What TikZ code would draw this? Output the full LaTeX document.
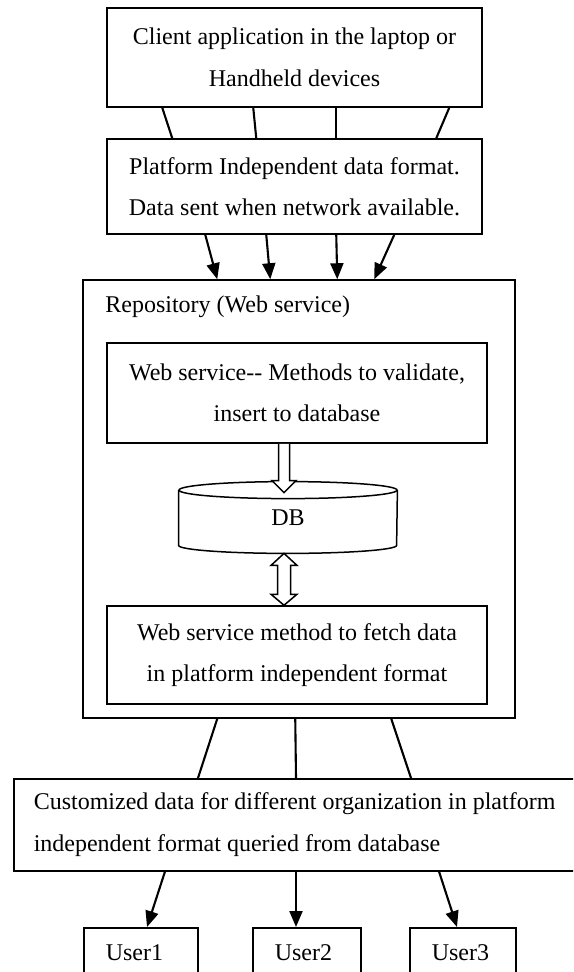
\documentclass[tikz,border=0pt]{standalone}
\usepackage{fontspec}
\setmainfont{Liberation Serif}
\usetikzlibrary{calc}
\usetikzlibrary{arrows.meta}

\begin{document}
\begin{tikzpicture}[x=0.5pt, y=-0.5pt,
    font=\fontsize{12pt}{20.75pt}\selectfont,
    box/.style={draw, line width=0.75pt, rectangle, align=center, inner sep=0pt},
    conn/.style={line width=1.05pt},
    arr/.style={conn, -{Triangle[length=8pt,width=6.5pt]}},
    blk/.style={draw, line width=0.75pt, fill=white},
  ]
  \path[use as bounding box, clip] (0,0) rectangle (573,972);

  \node[box, minimum width=187.5pt, minimum height=49.5pt] (client) at (294.5,57.5)
    {Client application in the laptop or\\ Handheld devices};
  \node[box, minimum width=187.5pt, minimum height=47.5pt] (fmt) at (294.5,186.5)
    {Platform Independent data format.\\ Data sent when network available.};

  % repository
  \node[box, minimum width=216pt, minimum height=219pt] (repo) at (299,499) {};
  \node[anchor=base west, inner sep=0pt] (repolabel) at (105,313) {Repository (Web service)};
  \node[box, minimum width=190pt, minimum height=50pt] (valid) at (297,393)
    {Web service-{}- Methods to validate,\\ insert to database};
  \node[minimum width=109pt, minimum height=27.25pt, inner sep=0pt] (db) at (288,517.75) {DB};
  \node[box, minimum width=190pt, minimum height=49pt] (fetch) at (297,655)
    {Web service method to fetch data\\ in platform independent format};

  \draw[line width=0.75pt] (db.north west) -- (db.south west)
    arc[start angle=180, end angle=360, x radius=54.5pt, y radius=4pt] -- (db.north east);
  \draw[line width=0.75pt] (db.north) ellipse [x radius=54.5pt, y radius=4.25pt];

  \coordinate (vtop) at ($(valid.south)+(-13,0)$);
  \coordinate (vtip) at ($(db.north)+(-4,2.5)$);
  \draw[blk] ($(vtop)+(-5.5,0)$) -- ($(vtip)+(-5.5,-12)$) -- ($(vtip)+(-12,-12)$) -- (vtip)
    -- ($(vtip)+(12,-12)$) -- ($(vtip)+(5.5,-12)$) -- ($(vtop)+(5.5,0)$);

  \coordinate (dtop) at ($(db.south)+(-4,8)$);
  \coordinate (dbot) at ($(fetch.north)+(-13,0)$);
  \draw[blk] (dtop) -- ++(13,12) -- ++(-6.5,0) -- ($(dbot)+(6.5,-11)$) -- ++(6.5,0) -- (dbot)
    -- ++(-13,-11) -- ++(6.5,0) -- ($(dtop)+(-6.5,12)$) -- ++(-6.5,0) -- cycle;

  % output side
  \node[box, anchor=north west, minimum height=46pt, inner xsep=10pt, align=left] (custom) at (13,778)
    {Customized data for different organization in platform\\ independent format queried from database};
  \node[box, anchor=north west, minimum height=25pt, text width=35pt, inner xsep=11pt, align=left] (user1) at (83,927) {User1};
  \node[box, anchor=north west, minimum height=25pt, text width=32pt, inner xsep=11pt, align=left] (user2) at (252,927) {User2};
  \node[box, anchor=north west, minimum height=25pt, text width=31pt, inner xsep=11pt, align=left] (user3) at (409,927) {User3};

  \foreach \a/\b in {56/66, 147/150, 230/230, 343/330}
    \draw[conn] ($(client.south west)+(\a,0)$) -- ($(fmt.north west)+(\b,0)$);
  \foreach \a/\b in {99/135, 160/188, 230/255, 288/292}
    \draw[arr] ($(fmt.south west)+(\a,0)$) -- ($(repo.north west)+(\b,0)$);
  \foreach \a/\b in {135/185, 213/283, 309/398}
    \draw[conn] ($(repo.south west)+(\a,0)$) -- ($(custom.north west)+(\b,0)$);
  \draw[arr] ($(custom.south west)+(152,0)$) -- ($(user1.north west)+(64,0)$);
  \draw[arr] ($(custom.south west)+(283,0)$) -- ($(user2.north west)+(44,0)$);
  \draw[arr] ($(custom.south west)+(426,0)$) -- ($(user3.north west)+(48,0)$);
\end{tikzpicture}
\end{document}
